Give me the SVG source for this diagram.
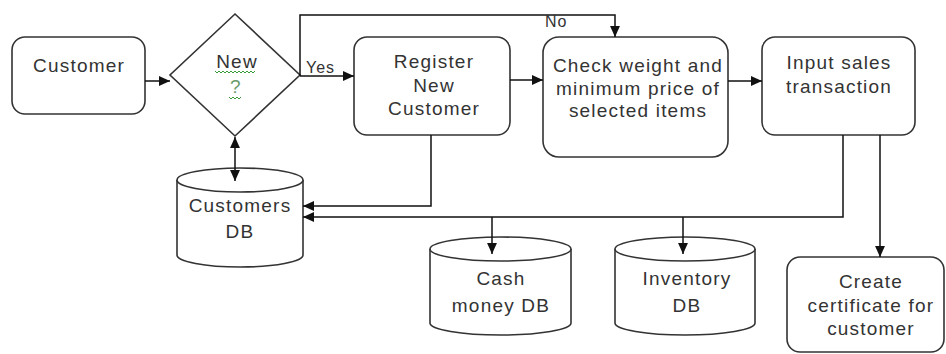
<svg xmlns="http://www.w3.org/2000/svg" width="946" height="354" viewBox="0 0 946 354">
  <defs>
    <marker id="arrow" viewBox="0 0 10 10" refX="10" refY="5" markerWidth="11" markerHeight="11" markerUnits="userSpaceOnUse" orient="auto">
      <path d="M0,0.5 L10,5 L0,9.5 Z" fill="#111"/>
    </marker>
    <marker id="arrow-start" viewBox="0 0 10 10" refX="0" refY="5" markerWidth="11" markerHeight="11" markerUnits="userSpaceOnUse" orient="auto">
      <path d="M10,0.5 L0,5 L10,9.5 Z" fill="#111"/>
    </marker>
  </defs>
  <style>
    .box { fill: #fff; stroke: #333; stroke-width: 1.6; }
    .txt { font-family: "Liberation Sans", Arial, sans-serif; font-size: 19px; letter-spacing: 1.2px; fill: #333; text-anchor: middle; }
    .lbl { font-family: "Liberation Sans", Arial, sans-serif; font-size: 16px; letter-spacing: 1px; fill: #333; }
    .conn { fill: none; stroke: #111; stroke-width: 1.5; }
    .squig { fill: none; stroke: #3a9a3a; stroke-width: 1; }
  </style>
  <rect width="946" height="354" fill="#fff"/>

  <g id="customer">
    <rect class="box" x="12" y="37" width="133" height="77" rx="13"/>
    <text class="txt" x="79" y="72">Customer</text>
  </g>

  <g id="new-decision">
    <polygon class="box" points="235,14 300,75 235,136 170,75"/>
    <text class="txt" x="237" y="68" fill="#555">New</text>
    <path class="squig" d="M215,71 l2,2 l2,-2 l2,2 l2,-2 l2,2 l2,-2 l2,2 l2,-2 l2,2 l2,-2 l2,2 l2,-2 l2,2 l2,-2 l2,2 l2,-2 l2,2 l2,-2 l2,2 l2,-2"/>
    <text class="txt" x="236" y="93" style="fill:#6a9a6a">?</text>
    <path class="squig" d="M229,97 l2,2 l2,-2 l2,2 l2,-2 l2,2 l2,-2"/>
  </g>

  <g id="register">
    <rect class="box" x="354" y="37" width="156" height="98" rx="13"/>
    <text class="txt" x="434" y="68">Register</text>
    <text class="txt" x="434" y="92">New</text>
    <text class="txt" x="434" y="115">Customer</text>
  </g>

  <g id="check">
    <rect class="box" x="543" y="37" width="185" height="120" rx="16"/>
    <text class="txt" x="638" y="72">Check weight and</text>
    <text class="txt" x="638" y="95">minimum price of</text>
    <text class="txt" x="638" y="117">selected items</text>
  </g>

  <g id="input-sales">
    <rect class="box" x="762" y="37" width="153" height="98" rx="13"/>
    <text class="txt" x="839" y="69">Input sales</text>
    <text class="txt" x="839" y="93">transaction</text>
  </g>

  <g id="customers-db">
    <path class="box" d="M177,180 A63,12 0 0 1 303,180 L303,255 A63,12 0 0 1 177,255 Z"/>
    <path class="box" d="M177,180 A63,12 0 0 0 303,180" fill="none"/>
    <text class="txt" x="240" y="212">Customers</text>
    <text class="txt" x="240" y="238">DB</text>
  </g>

  <g id="cash-db">
    <path class="box" d="M430,249 A70.5,12 0 0 1 571,249 L571,323 A70.5,12 0 0 1 430,323 Z"/>
    <path class="box" d="M430,249 A70.5,12 0 0 0 571,249" fill="none"/>
    <text class="txt" x="501" y="285">Cash</text>
    <text class="txt" x="501" y="312">money DB</text>
  </g>

  <g id="inventory-db">
    <path class="box" d="M615,249 A70,12 0 0 1 755,249 L755,323 A70,12 0 0 1 615,323 Z"/>
    <path class="box" d="M615,249 A70,12 0 0 0 755,249" fill="none"/>
    <text class="txt" x="687" y="285">Inventory</text>
    <text class="txt" x="687" y="312">DB</text>
  </g>

  <g id="certificate">
    <rect class="box" x="787" y="257" width="157" height="95" rx="13"/>
    <text class="txt" x="871" y="288">Create</text>
    <text class="txt" x="871" y="312">certificate for</text>
    <text class="txt" x="871" y="335">customer</text>
  </g>

  <g id="connectors">
    <path class="conn" d="M145,81 L170,81" marker-end="url(#arrow)"/>
    <path class="conn" d="M300,76 L354,76" marker-end="url(#arrow)"/>
    <text class="lbl" x="306" y="73">Yes</text>
    <path class="conn" d="M300,76 L300,15 L615,15 L615,37" marker-end="url(#arrow)"/>
    <text class="lbl" x="545" y="27">No</text>
    <path class="conn" d="M510,80 L543,80" marker-end="url(#arrow)"/>
    <path class="conn" d="M728,81 L762,81" marker-end="url(#arrow)"/>
    <path class="conn" d="M235,137 L235,181" marker-start="url(#arrow-start)" marker-end="url(#arrow)"/>
    <path class="conn" d="M431,135 L431,206 L303,206" marker-end="url(#arrow)"/>
    <path class="conn" d="M843,135 L843,217 L303,217" marker-end="url(#arrow)"/>
    <path class="conn" d="M492,217 L492,254" marker-end="url(#arrow)"/>
    <path class="conn" d="M683,217 L683,254" marker-end="url(#arrow)"/>
    <path class="conn" d="M880,135 L880,257" marker-end="url(#arrow)"/>
  </g>
</svg>
